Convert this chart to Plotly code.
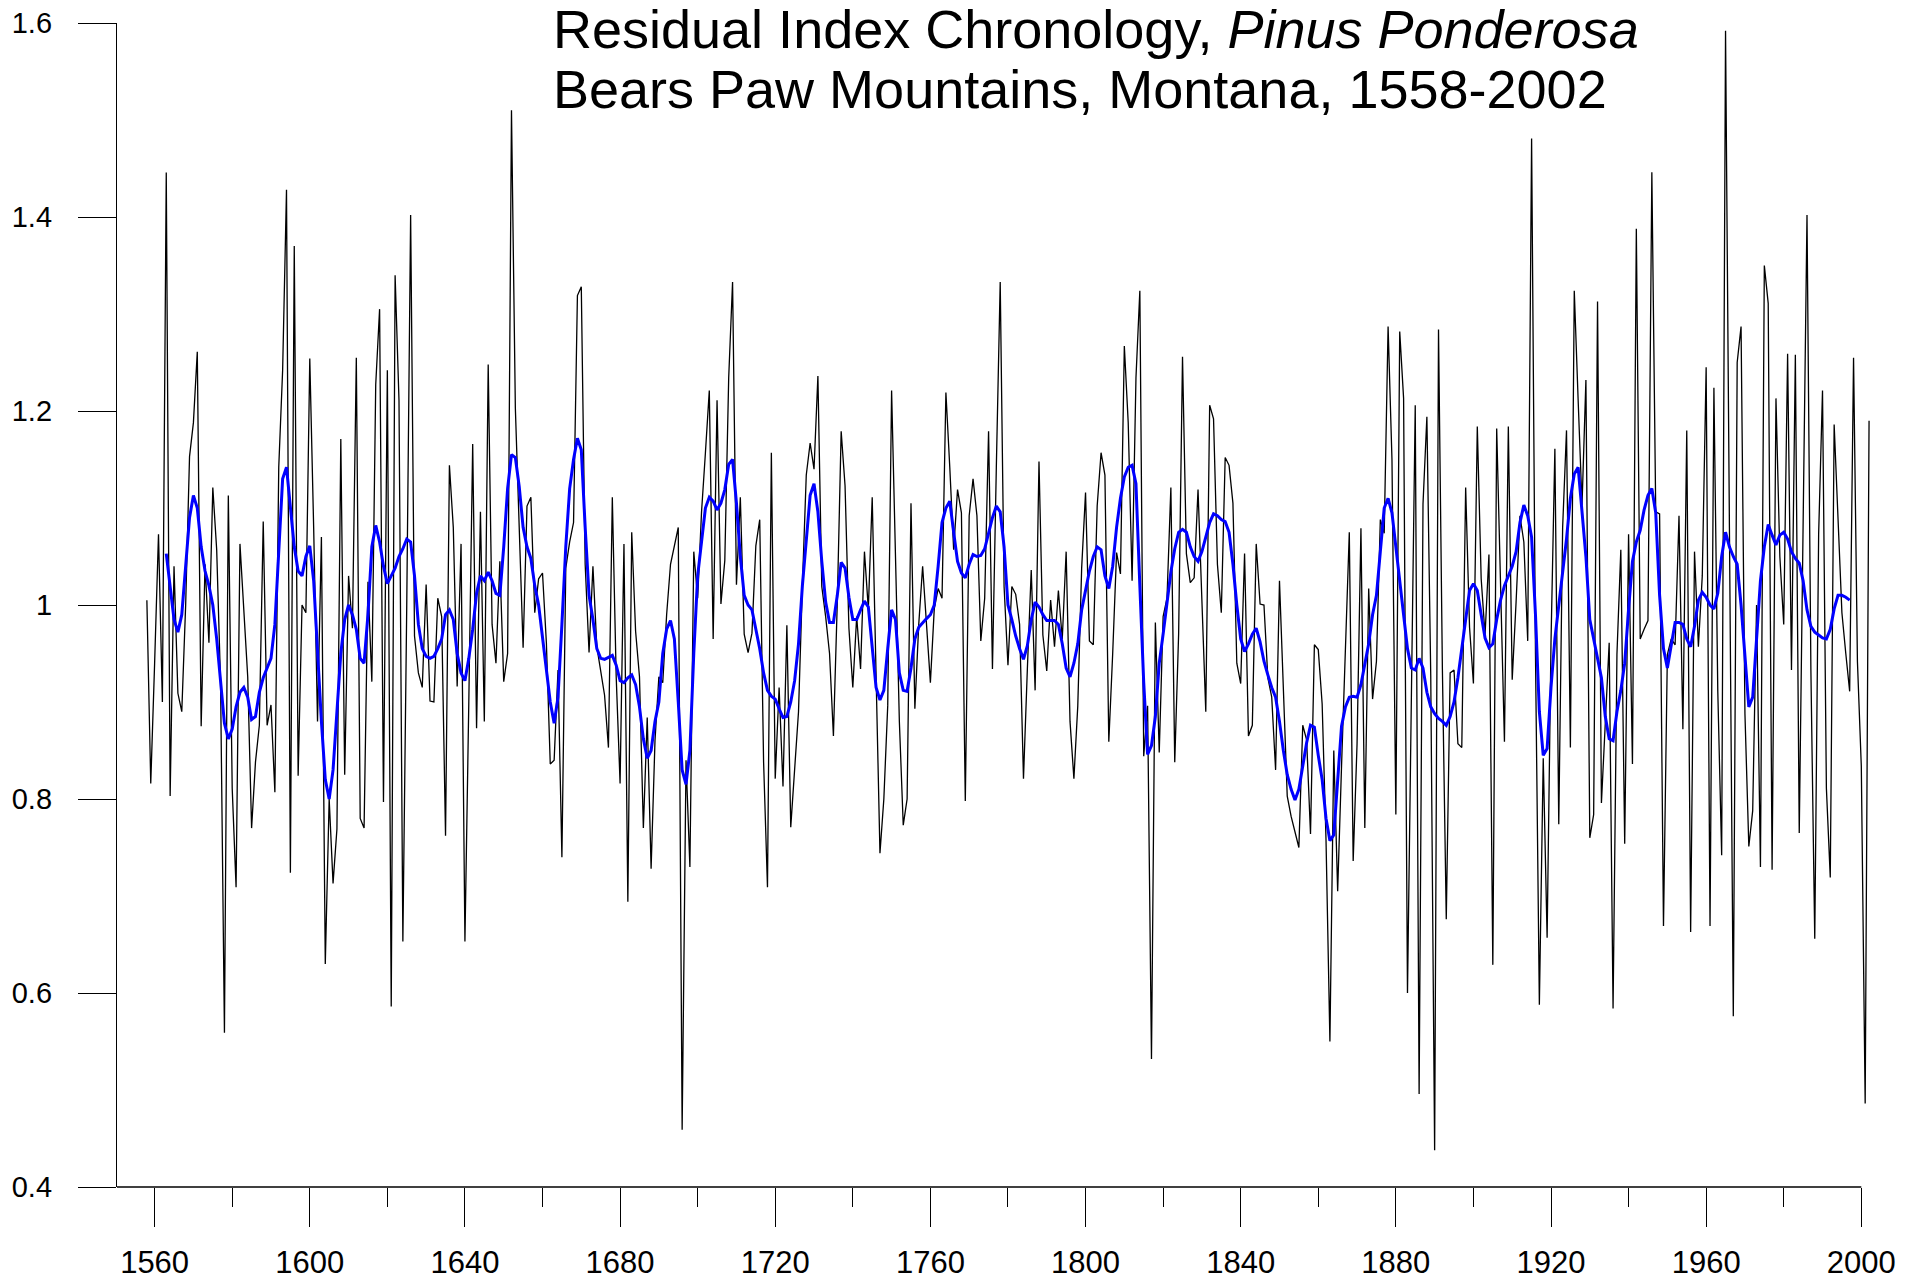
import plotly.graph_objects as go

# ---- Residual index values (black), read per year ----
ring_1558 = [1.005, 0.816, 0.94, 1.073, 0.90, 1.446, 0.803, 1.04, 0.909, 0.89,
             1.0, 1.153, 1.188, 1.261, 0.875, 1.042, 0.961, 1.121, 1.057, 0.92,
             0.559, 1.113, 0.811, 0.709, 1.063, 0.99, 0.926, 0.77, 0.838, 0.876,
             1.086, 0.876, 0.897, 0.807, 1.142, 1.242, 1.428, 0.724, 1.37, 0.824,
             1.0, 0.992]
ring_1600 = [1.254, 1.08, 0.88, 1.07, 0.63, 0.80, 0.713, 0.769, 1.171, 0.825,
             1.03, 0.976, 1.255, 0.78, 0.77, 1.024, 0.921, 1.227, 1.305, 0.797,
             1.242, 0.586, 1.34, 1.211, 0.653, 1.0, 1.402, 0.968, 0.93, 0.915,
             1.021, 0.901, 0.90, 1.007, 0.988, 0.762, 1.144, 1.08, 0.916, 1.063,
             0.653, 0.9, 1.166, 0.873, 1.096]
ring_1645 = [0.88, 1.248, 0.98, 0.94, 1.045, 0.921, 0.95, 1.51, 1.203, 1.08,
             0.956, 1.102, 1.111, 0.992, 1.027, 1.033, 0.961, 0.836, 0.84, 0.933,
             0.74, 1.038, 1.065, 1.085, 1.319, 1.328, 1.042, 0.951, 1.04, 0.957,
             0.934, 0.907, 0.853, 1.111, 0.926, 0.816, 1.063, 0.694, 1.075, 0.973,
             0.926, 0.77, 0.884, 0.728, 0.86]
ring_1690 = [0.926, 0.92, 0.99, 1.042, 1.061, 1.08, 0.459, 0.84, 0.73, 1.055,
             1.007, 1.096, 1.157, 1.221, 0.965, 1.211, 1.001, 1.046, 1.234, 1.333,
             1.021, 1.111, 0.97, 0.951, 0.971, 1.061, 1.088, 0.838, 0.709, 1.157,
             0.821, 0.915, 0.813, 0.979, 0.771, 0.83, 0.89, 1.02, 1.134, 1.167,
             1.14, 1.236, 1.019, 0.988, 0.95]
ring_1735 = [0.865, 1.003, 1.179, 1.123, 0.976, 0.915, 0.988, 0.934, 1.055, 0.996,
             1.111, 0.911, 0.744, 0.8, 0.896, 1.221, 1.057, 0.88, 0.773, 0.8,
             1.105, 0.893, 0.98, 1.04, 0.98, 0.92, 0.996, 1.017, 1.007, 1.219,
             1.142, 1.057, 1.119, 1.095, 0.798, 1.092, 1.13, 1.092, 0.963, 1.007,
             1.179, 0.934, 1.142, 1.333, 1.019]
ring_1780 = [0.938, 1.019, 1.011, 0.98, 0.821, 0.934, 1.036, 0.912, 1.148, 0.969,
             0.932, 1.005, 0.957, 1.015, 0.965, 1.055, 0.88, 0.821, 0.896, 1.038,
             1.116, 0.963, 0.959, 1.102, 1.157, 1.134, 0.859, 0.95, 1.054, 1.032,
             1.267, 1.188, 1.025, 1.234, 1.324, 0.844, 0.896, 0.532, 0.982, 0.848,
             0.988, 1.007, 1.121, 0.838, 0.97]
ring_1825 = [1.256, 1.053, 1.023, 1.028, 1.119, 1.003, 0.89, 1.206, 1.192, 1.042,
             0.992, 1.152, 1.144, 1.105, 0.94, 0.919, 1.053, 0.865, 0.876, 1.063,
             1.001, 1.0, 0.925, 0.905, 0.83, 1.025, 0.911, 0.803, 0.782, 0.767,
             0.75, 0.876, 0.861, 0.764, 0.959, 0.954, 0.898, 0.757, 0.55, 0.85,
             0.705, 0.834, 0.961, 1.075, 0.736]
ring_1870 = [0.857, 1.079, 0.77, 1.017, 0.903, 0.942, 1.088, 1.074, 1.287, 1.15,
             0.784, 1.282, 1.213, 0.6, 0.934, 1.206, 0.496, 1.104, 1.194, 0.927,
             0.438, 1.284, 0.934, 0.676, 0.93, 0.933, 0.857, 0.853, 1.121, 0.977,
             0.919, 1.184, 1.027, 0.969, 1.052, 0.629, 1.182, 1.034, 0.859, 1.184,
             0.923, 1.003, 1.092, 1.065, 0.963]
ring_1915 = [1.481, 0.949, 0.588, 0.842, 0.657, 0.961, 1.161, 0.774, 1.08, 1.18,
             0.853, 1.324, 1.211, 1.103, 1.232, 0.76, 0.784, 1.313, 0.796, 0.872,
             0.961, 0.584, 0.949, 1.057, 0.754, 1.073, 0.836, 1.388, 0.965, 0.975,
             0.984, 1.446, 1.096, 1.094, 0.669, 0.949, 0.965, 0.959, 1.092, 0.872,
             1.18, 0.663, 1.055, 0.957, 1.03]
ring_1960 = [1.245, 0.669, 1.224, 0.911, 0.742, 1.592, 1.08, 0.576, 1.25, 1.287,
             0.888, 0.751, 0.788, 1.0, 0.73, 1.35, 1.311, 0.727, 1.213, 1.05,
             0.98, 1.259, 0.933, 1.258, 0.765, 1.065, 1.402, 0.934, 0.656, 1.073,
             1.221, 0.811, 0.719, 1.186, 1.08, 0.992, 0.95, 0.911, 1.255, 0.942,
             0.834, 0.486, 1.19]

# ---- Smoothed curve (blue), read per year ----
smooth_1563 = [1.053, 1.02, 0.985, 0.972, 0.99, 1.04, 1.09, 1.113, 1.10, 1.06,
               1.035, 1.02, 1.0, 0.965, 0.92, 0.878, 0.862, 0.872, 0.895, 0.91,
               0.915, 0.905, 0.882, 0.885, 0.91, 0.925, 0.935, 0.945, 0.98, 1.06,
               1.13, 1.142, 1.1, 1.06, 1.035, 1.03, 1.05]
smooth_1600 = [1.061, 1.025, 0.95, 0.88, 0.82, 0.80, 0.83, 0.89, 0.95, 0.985,
               1.0, 0.99, 0.975, 0.945, 0.94, 0.99, 1.06, 1.082, 1.065, 1.04,
               1.022, 1.03, 1.038, 1.05, 1.058, 1.068, 1.065, 1.03, 0.98, 0.955,
               0.947, 0.945, 0.947, 0.955, 0.965, 0.99, 0.995, 0.985, 0.95, 0.93,
               0.922, 0.945, 0.975, 1.012, 1.03]
smooth_1645 = [1.025, 1.034, 1.025, 1.012, 1.01, 1.06, 1.12, 1.155, 1.152, 1.122,
               1.08, 1.06, 1.048, 1.02, 1.0, 0.965, 0.93, 0.9, 0.878, 0.905,
               0.98, 1.06, 1.12, 1.15, 1.172, 1.16, 1.08, 1.01, 0.985, 0.955,
               0.945, 0.944, 0.946, 0.948, 0.938, 0.922, 0.92, 0.925, 0.928, 0.918,
               0.895, 0.862, 0.842, 0.85, 0.88]
smooth_1690 = [0.9, 0.95, 0.975, 0.984, 0.965, 0.9, 0.83, 0.815, 0.85, 0.95,
               1.03, 1.065, 1.1, 1.111, 1.107, 1.098, 1.105, 1.119, 1.145, 1.15,
               1.105, 1.05, 1.01, 1.0, 0.995, 0.975, 0.955, 0.93, 0.912, 0.906,
               0.903, 0.893, 0.884, 0.885, 0.9, 0.922, 0.96, 1.02, 1.065, 1.113,
               1.125, 1.096, 1.045, 1.003, 0.982]
smooth_1735 = [0.982, 1.01, 1.044, 1.038, 1.008, 0.985, 0.985, 0.995, 1.004, 0.998,
               0.955, 0.915, 0.902, 0.912, 0.955, 0.995, 0.985, 0.93, 0.912, 0.911,
               0.935, 0.965, 0.977, 0.982, 0.986, 0.99, 1.0, 1.04, 1.085, 1.1,
               1.107, 1.075, 1.045, 1.033, 1.028, 1.042, 1.052, 1.05, 1.051, 1.058,
               1.075, 1.09, 1.102, 1.096, 1.06]
smooth_1780 = [1.0, 0.985, 0.968, 0.955, 0.944, 0.958, 0.985, 1.003, 0.998, 0.99,
               0.984, 0.984, 0.984, 0.98, 0.96, 0.935, 0.926, 0.94, 0.96, 0.995,
               1.015, 1.035, 1.05, 1.06, 1.057, 1.03, 1.017, 1.04, 1.08, 1.11,
               1.132, 1.142, 1.144, 1.125, 1.02, 0.92, 0.846, 0.855, 0.885, 0.94,
               0.97, 1.005, 1.034, 1.058, 1.075]
smooth_1825 = [1.078, 1.075, 1.06, 1.05, 1.045, 1.055, 1.07, 1.085, 1.094, 1.092,
               1.088, 1.086, 1.075, 1.042, 1.0, 0.965, 0.952, 0.96, 0.97, 0.976,
               0.962, 0.942, 0.928, 0.915, 0.905, 0.88, 0.85, 0.825, 0.81, 0.799,
               0.81, 0.835, 0.858, 0.876, 0.874, 0.845, 0.82, 0.78, 0.757, 0.763,
               0.82, 0.875, 0.895, 0.905, 0.906]
smooth_1870 = [0.905, 0.918, 0.94, 0.96, 0.99, 1.01, 1.055, 1.1, 1.11, 1.095,
               1.06, 1.025, 0.99, 0.955, 0.935, 0.933, 0.945, 0.935, 0.91, 0.895,
               0.888, 0.883, 0.88, 0.876, 0.885, 0.9, 0.925, 0.955, 0.99, 1.015,
               1.022, 1.015, 0.99, 0.966, 0.956, 0.96, 0.985, 1.005, 1.02, 1.03,
               1.04, 1.055, 1.085, 1.103, 1.092]
smooth_1915 = [1.07, 0.99, 0.89, 0.845, 0.852, 0.915, 0.965, 1.0, 1.035, 1.068,
               1.11, 1.135, 1.142, 1.1, 1.05, 0.985, 0.965, 0.948, 0.925, 0.885,
               0.862, 0.86, 0.89, 0.912, 0.94, 0.995, 1.045, 1.065, 1.077, 1.098,
               1.113, 1.12, 1.095, 1.01, 0.955, 0.935, 0.96, 0.982, 0.982, 0.98,
               0.965, 0.957, 0.978, 1.005, 1.013]
smooth_1960 = [1.008, 1.0, 0.996, 1.012, 1.05, 1.075, 1.06, 1.05, 1.042, 1.0,
               0.95, 0.895, 0.905, 0.97, 1.025, 1.06, 1.083, 1.072, 1.062, 1.072,
               1.075, 1.068, 1.055, 1.048, 1.043, 1.025, 0.995, 0.978, 0.972, 0.969,
               0.966, 0.965, 0.975, 0.996, 1.01, 1.01, 1.008, 1.005]

ring_segments = [(1558, ring_1558), (1600, ring_1600), (1645, ring_1645),
                 (1690, ring_1690), (1735, ring_1735), (1780, ring_1780),
                 (1825, ring_1825), (1870, ring_1870), (1915, ring_1915),
                 (1960, ring_1960)]
smooth_segments = [(1563, smooth_1563), (1600, smooth_1600), (1645, smooth_1645),
                   (1690, smooth_1690), (1735, smooth_1735), (1780, smooth_1780),
                   (1825, smooth_1825), (1870, smooth_1870), (1915, smooth_1915),
                   (1960, smooth_1960)]

x_tick_vals = [1560, 1600, 1640, 1680, 1720, 1760, 1800, 1840, 1880, 1920, 1960, 2000]
y_tick_vals = [0.4, 0.6, 0.8, 1.0, 1.2, 1.4, 1.6]
y_tick_text = ["0.4", "0.6", "0.8", "1", "1.2", "1.4", "1.6"]


def flatten(segments):
    xs, ys = [], []
    for start, vals in segments:
        xs.extend(range(start, start + len(vals)))
        ys.extend(vals)
    return xs, ys


ring_years, ring_vals = flatten(ring_segments)
smooth_years, smooth_vals = flatten(smooth_segments)

FONT = "Arial, Liberation Sans, sans-serif"

fig = go.Figure()
fig.add_trace(go.Scatter(x=ring_years, y=ring_vals, mode="lines",
                         line=dict(color="black", width=1.3), hoverinfo="skip"))
fig.add_trace(go.Scatter(x=smooth_years, y=smooth_vals, mode="lines",
                         line=dict(color="#0000FF", width=3.0), hoverinfo="skip"))

fig.update_layout(
    width=1918, height=1284,
    margin=dict(l=117, r=47, t=23, b=97, pad=0),
    paper_bgcolor="white", plot_bgcolor="white",
    showlegend=False,
    font=dict(family=FONT, color="black"),
    xaxis=dict(range=[1550.3, 2002.5], tickmode="array", tickvals=x_tick_vals,
               ticks="outside", ticklen=39, tickwidth=1.3, tickcolor="black",
               showgrid=False, zeroline=False, showline=False, automargin=False,
               tickfont=dict(size=31, family=FONT, color="black"),
               ticklabelstandoff=9,
               minor=dict(dtick=20, tick0=1560, ticks="outside", ticklen=19,
                          tickwidth=1.3, tickcolor="black", showgrid=False)),
    yaxis=dict(range=[0.4, 1.6], tickmode="array", tickvals=y_tick_vals,
               ticktext=y_tick_text, ticks="outside", ticklen=38, tickwidth=1.3,
               tickcolor="black", showgrid=False, zeroline=False, automargin=False,
               showline=True, linecolor="black", linewidth=1.3,
               tickfont=dict(size=29, family=FONT, color="black"),
               ticklabelstandoff=20),
    shapes=[dict(type="line", xref="x", yref="paper", x0=1550.3, x1=2000,
                 y0=0, y1=0, line=dict(color="black", width=1.3))],
    annotations=[
        dict(text="Residual Index Chronology, <i>Pinus Ponderosa</i>",
             xref="paper", yref="paper", x=0.2477, y=0.9952,
             xanchor="left", yanchor="middle", showarrow=False,
             font=dict(size=54, family=FONT, color="black")),
        dict(text="Bears Paw Mountains, Montana, 1558-2002",
             xref="paper", yref="paper", x=0.2477, y=0.9437,
             xanchor="left", yanchor="middle", showarrow=False,
             font=dict(size=54, family=FONT, color="black")),
    ],
)

fig.write_html("out.html", config={"displayModeBar": False},
               post_script="document.body.style.margin='0';")
